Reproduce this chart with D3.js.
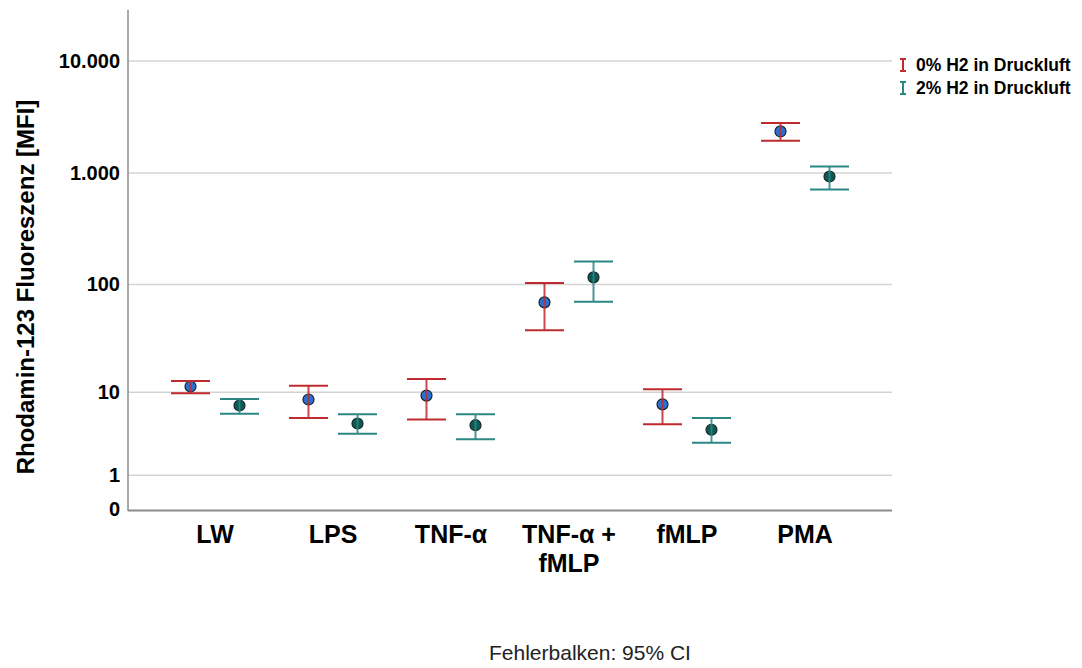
<!DOCTYPE html>
<html>
<head>
<meta charset="utf-8">
<script src="https://cdn.jsdelivr.net/npm/d3@7"></script>
<style>
  html, body { margin: 0; padding: 0; background: #fff; }
  svg { display: block; }
  text { font-family: "Liberation Sans", Arial, sans-serif; }
</style>
</head>
<body>
<svg id="chart" width="1082" height="668"></svg>
<script>
const categories = ["LW", "LPS", "TNF-α", "TNF-α + fMLP", "fMLP", "PMA"];
const categoryLines = [["LW"], ["LPS"], ["TNF-α"], ["TNF-α +", "fMLP"], ["fMLP"], ["PMA"]];
const seriesNames = ["0% H2 in Druckluft", "2% H2 in Druckluft"];
const mean0 = [11.4, 8.5, 9.3, 69, 7.6, 2350];
const low0  = [9.8, 5.5, 5.3, 38.5, 4.7, 1940];
const high0 = [12.9, 11.6, 13.5, 103, 10.7, 2800];
const mean2 = [7.4, 4.8, 4.6, 116, 4.1, 930];
const low2  = [6.1, 3.7, 3.2, 70, 2.9, 710];
const high2 = [8.6, 6.0, 6.0, 161, 5.5, 1145];
const yTicks = [0, 1, 10, 100, 1000, 10000];
const yTitle = "Rhodamin-123 Fluoreszenz [MFI]";
const footer = "Fehlerbalken: 95% CI";

const lineColors = ["#bf2a2f", "#2b8783"];
const markerFill = ["#2a70d2", "#0c5a55"];

const svg = d3.select("#chart");
const locale = d3.formatLocale({decimal: ",", thousands: ".", grouping: [3], currency: ["", "€"]});
const fmt = locale.format(",d");

const y = d3.scaleSymlog().constant(1).domain([0, 10000]).range([509, 61]);
const x = d3.scaleBand().domain(categories).range([156, 864]);
const xs = d3.scalePoint().domain(seriesNames).range([-24.5, 24.5]);

const plotLeft = 128, plotRight = 892;
const FONT = "'Liberation Sans', Arial, sans-serif";

// gridlines
svg.append("g").selectAll("line").data(yTicks.filter(d => d > 0)).join("line")
  .attr("x1", plotLeft).attr("x2", plotRight)
  .attr("y1", d => y(d)).attr("y2", d => y(d))
  .attr("stroke", "#d4d4d4").attr("stroke-width", 1.5);

// y axis
const yAxis = svg.append("g").attr("transform", `translate(${plotLeft},0)`)
  .call(d3.axisLeft(y).tickValues(yTicks).tickFormat(fmt).tickSize(0).tickPadding(8));
yAxis.select(".domain").remove();
yAxis.selectAll("text").attr("font-size", 20).attr("font-weight", "bold").attr("fill", "#000")
  .attr("font-family", FONT);
svg.append("line").attr("x1", plotLeft).attr("x2", plotLeft).attr("y1", 10).attr("y2", 511)
  .attr("stroke", "#8c8c8c").attr("stroke-width", 1.5);

// x axis
const xAxis = svg.append("g").attr("transform", "translate(0,511)")
  .call(d3.axisBottom(x).tickSize(0).tickFormat(""));
xAxis.select(".domain").remove();
xAxis.selectAll(".tick").each(function(d, i) {
  const t = d3.select(this).append("text")
    .attr("text-anchor", "middle").attr("font-size", 25).attr("font-weight", "bold").attr("fill", "#000")
    .attr("font-family", FONT);
  categoryLines[i].forEach((ln, j) => {
    t.append("tspan").attr("x", 0).attr("y", 32 + j * 29).text(ln);
  });
});
svg.append("line").attr("x1", plotLeft).attr("x2", plotRight).attr("y1", 510.5).attr("y2", 510.5)
  .attr("stroke", "#8c8c8c").attr("stroke-width", 2);

// series
const series = [
  {name: seriesNames[0], mean: mean0, low: low0, high: high0},
  {name: seriesNames[1], mean: mean2, low: low2, high: high2}
];
const capHalf = 19.5;
series.forEach((s, si) => {
  const g = svg.append("g");
  const data = categories.map((c, i) => ({c, m: s.mean[i], lo: s.low[i], hi: s.high[i]}));
  const cx = d => x(d.c) + x.bandwidth() / 2 + xs(s.name);
  g.selectAll("circle").data(data).join("circle")
    .attr("cx", cx).attr("cy", d => y(d.m)).attr("r", 5.5)
    .attr("fill", markerFill[si]).attr("stroke", "#1b2626").attr("stroke-width", 1.2);
  g.selectAll("line.v").data(data).join("line").attr("class", "v")
    .attr("x1", cx).attr("x2", cx).attr("y1", d => y(d.lo)).attr("y2", d => y(d.hi))
    .attr("stroke", lineColors[si]).attr("stroke-width", 2).attr("opacity", 0.85);
  g.selectAll("line.cl").data(data).join("line").attr("class", "cl")
    .attr("x1", d => cx(d) - capHalf).attr("x2", d => cx(d) + capHalf)
    .attr("y1", d => y(d.lo)).attr("y2", d => y(d.lo))
    .attr("stroke", lineColors[si]).attr("stroke-width", 2);
  g.selectAll("line.ch").data(data).join("line").attr("class", "ch")
    .attr("x1", d => cx(d) - capHalf).attr("x2", d => cx(d) + capHalf)
    .attr("y1", d => y(d.hi)).attr("y2", d => y(d.hi))
    .attr("stroke", lineColors[si]).attr("stroke-width", 2);
});

// legend
const legend = svg.append("g").attr("transform", "translate(903,65)");
seriesNames.forEach((n, i) => {
  const g = legend.append("g").attr("transform", `translate(0,${i * 23})`);
  g.append("line").attr("x1", 0).attr("x2", 0).attr("y1", -6).attr("y2", 6).attr("stroke", lineColors[i]).attr("stroke-width", 2);
  g.append("line").attr("x1", -3).attr("x2", 3).attr("y1", -6).attr("y2", -6).attr("stroke", lineColors[i]).attr("stroke-width", 2);
  g.append("line").attr("x1", -3).attr("x2", 3).attr("y1", 6).attr("y2", 6).attr("stroke", lineColors[i]).attr("stroke-width", 2);
  g.append("text").attr("x", 13).attr("y", 6).attr("font-size", 17.5).attr("font-weight", "bold").attr("fill", "#000").text(n);
});

// y title
svg.append("text")
  .attr("transform", "translate(34,287) rotate(-90)")
  .attr("text-anchor", "middle").attr("font-size", 24).attr("font-weight", "bold").attr("fill", "#000")
  .text(yTitle);

// footer
svg.append("text").attr("x", 590).attr("y", 660).attr("text-anchor", "middle")
  .attr("font-size", 21).attr("fill", "#222").text(footer);
</script>
</body>
</html>
